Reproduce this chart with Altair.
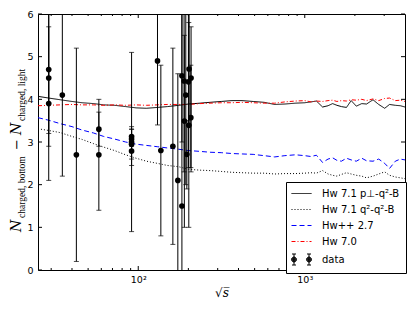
import altair as alt
import pandas as pd

# ---------------- data ----------------
SERIES = ["Hw 7.1 p⊥-q²-B", "Hw 7.1 q²-q²-B", "Hw++ 2.7", "Hw 7.0", "data"]
COLORS = ["#000000", "#000000", "#0000ff", "#ff0000", "#000000"]
DASHES = [[1, 0], [1, 2], [5, 3], [4, 2, 1, 2], [1, 0]]

MC_SQRT_S = [25, 29, 34, 40, 46, 54, 62, 72, 84, 97, 112, 130, 150, 175, 200,
             235, 270, 315, 365, 420, 490, 570, 660, 760, 880, 1000, 1090, 1175,
             1280, 1380, 1470, 1560, 1660, 1780, 1900, 2040, 2200, 2350, 2570,
             2780, 3020, 3230, 3500, 3750, 4000]
HW71_PT = [4.07, 4.03, 3.99, 3.95, 3.92, 3.90, 3.87, 3.86, 3.83, 3.80, 3.79, 3.81,
           3.83, 3.86, 3.89, 3.91, 3.93, 3.95, 3.97, 3.97, 3.95, 3.93, 3.88, 3.89,
           3.91, 3.92, 3.94, 3.96, 3.82, 3.85, 3.90, 3.86, 3.83, 3.81, 3.97, 3.84,
           3.90, 3.89, 3.99, 3.88, 3.79, 3.88, 3.86, 3.85, 3.82]
HW71_Q2 = [3.31, 3.27, 3.22, 3.13, 3.06, 2.96, 2.88, 2.80, 2.70, 2.62, 2.55, 2.50,
           2.45, 2.42, 2.36, 2.34, 2.33, 2.31, 2.29, 2.28, 2.27, 2.27, 2.25, 2.26,
           2.26, 2.27, 2.28, 2.27, 2.33, 2.25, 2.22, 2.20, 2.24, 2.28, 2.25, 2.22,
           2.20, 2.16, 2.20, 2.25, 2.30, 2.22, 2.18, 2.16, 2.14]
HWPP27 = [3.57, 3.51, 3.43, 3.36, 3.28, 3.21, 3.13, 3.07, 3.00, 2.95, 2.92, 2.89,
          2.86, 2.83, 2.80, 2.78, 2.76, 2.75, 2.73, 2.72, 2.71, 2.68, 2.65, 2.68,
          2.70, 2.68, 2.66, 2.69, 2.52, 2.60, 2.63, 2.57, 2.55, 2.62, 2.58, 2.55,
          2.62, 2.56, 2.55, 2.60, 2.50, 2.38, 2.55, 2.60, 2.58]
HW70 = [3.85, 3.86, 3.87, 3.88, 3.87, 3.87, 3.86, 3.87, 3.86, 3.87, 3.86, 3.87,
        3.88, 3.88, 3.88, 3.90, 3.91, 3.92, 3.92, 3.93, 3.92, 3.91, 3.91, 3.94,
        3.96, 3.97, 3.94, 3.96, 3.95, 3.97, 3.98, 3.95, 3.97, 3.96, 3.99, 3.98,
        4.00, 3.97, 4.01, 3.97, 4.02, 4.03, 3.97, 3.98, 3.95]

DATA_SQRT_S = [29.0, 29.0, 29.0, 35.0, 42.5, 58.0, 58.0, 91.2, 91.2, 91.2, 91.2,
               91.2, 130.5, 136.7, 161.4, 172.9, 182.9, 182.9, 188.5, 189.2, 193.0,
               195.8, 200.1, 201.2, 202.0, 206.9, 207.6]
DATA_VAL = [3.9, 4.5, 4.7, 4.1, 2.7, 3.3, 2.7, 3.13, 3.07, 3.0, 2.95, 2.79, 4.9,
            2.8, 2.9, 2.1, 1.5, 4.55, 4.43, 3.49, 4.1, 2.71, 4.41, 3.39, 4.71,
            3.57, 4.5]
DATA_LO = [2.1, 2.9, 3.2, 2.2, 0.2, 2.9, 1.4, 2.9, 2.75, 0.9, 2.6, 2.45, 3.4,
           0.8, 0.6, -0.4, -1.5, 3.0, 2.3, 1.0, 2.0, 1.9, 2.4, 1.0, 3.4, 2.4, 2.3]
DATA_HI = [5.7, 6.1, 6.2, 6.0, 5.2, 3.7, 4.0, 3.36, 3.3, 5.1, 3.3, 3.15, 6.4,
           4.8, 5.2, 4.6, 6.5, 6.1, 6.5, 5.5, 6.2, 3.5, 6.4, 5.8, 6.0, 4.8, 5.7]

Y_TICKS = [0, 1, 2, 3, 4, 5, 6]
X_MAJOR = [100, 1000]
X_MINOR = [30, 40, 50, 60, 70, 80, 90, 200, 300, 400, 500, 600, 700, 800, 900,
           2000, 3000]

# ---------------- tables ----------------
mc_rows = []
for name, vals in zip(SERIES[:4], [HW71_PT, HW71_Q2, HWPP27, HW70]):
    for s, v in zip(MC_SQRT_S, vals):
        mc_rows.append({"sqrt_s": s, "value": v, "series": name})
mc_df = pd.DataFrame(mc_rows)

d_df = pd.DataFrame({"sqrt_s": DATA_SQRT_S, "value": DATA_VAL,
                     "lo": DATA_LO, "hi": DATA_HI})
key_df = pd.DataFrame({"series": SERIES})

yt_df = pd.DataFrame({"v": Y_TICKS})
xM_df = pd.DataFrame({"v": X_MAJOR})
xm_df = pd.DataFrame({"v": X_MINOR})

W, H = 367, 256
LX, LY = 248, 168

xscale = alt.Scale(type="log", domain=[25, 4000], nice=False)
yscale = alt.Scale(domain=[0, 6], nice=False, zero=False)

xaxis = alt.Axis(values=X_MAJOR,
                 labelExpr="datum.value == 100 ? '10²' : '10³'",
                 title="√s\u0305", titleFont="DejaVu Serif",
                 titleFontStyle="italic", titleFontWeight="normal",
                 titleFontSize=12, labelPadding=4, titlePadding=4)
yaxis = alt.Axis(values=Y_TICKS, format="d", title="", labelPadding=5)


# ---------- legend key symbols (custom paths, 1 unit = 5 px) ----------
def dash_path(pattern_px):
    """Horizontal segment from -2 to 2 units drawn with a dash pattern (px)."""
    pat = [p / 5.0 for p in pattern_px]
    x, i, parts = -2.0, 0, []
    while x < 2.0 - 1e-9:
        seg = pat[i % len(pat)]
        end = min(x + seg, 2.0)
        if i % 2 == 0:
            parts.append(f"M{x:.2f},0L{end:.2f},0")
        x = end
        i += 1
    return "".join(parts)


def data_path():
    parts = []
    for cx in (-1.5, 1.5):
        parts.append(f"M{cx},-1.1L{cx},1.1M{cx-0.4},-1.1L{cx+0.4},-1.1"
                     f"M{cx-0.4},1.1L{cx+0.4},1.1")
        for r in (0.5, 0.38, 0.26, 0.14, 0.04):
            parts.append(f"M{cx-r:.2f},0A{r},{r},0,1,0,{cx+r:.2f},0"
                         f"A{r},{r},0,1,0,{cx-r:.2f},0")
    return "".join(parts)


SHAPES = [dash_path([20, 0]), dash_path([1, 2]), dash_path([5, 3]),
          dash_path([4, 2, 1, 2]), data_path()]

# per-entry legend stroke colour, looked up from SERIES / COLORS
COLOR_EXPR = "".join(f"datum.value === '{s}' ? '{c}' : " for s, c in zip(SERIES, COLORS)) + "'#000000'"

legend = alt.Legend(title=None, orient="none", legendX=LX, legendY=LY,
                    symbolSize=100, symbolStrokeWidth=1,
                    symbolStrokeColor=alt.ExprRef(COLOR_EXPR),
                    labelFont="DejaVu Sans", labelFontSize=10, labelColor="black",
                    rowPadding=5, padding=6, labelOffset=15, symbolOffset=4,
                    strokeColor="black", fillColor="white", cornerRadius=0)

cscale = alt.Scale(domain=SERIES, range=COLORS)

X = lambda f: alt.X(f, scale=xscale, axis=xaxis)
Y = lambda f: alt.Y(f, scale=yscale, axis=yaxis)

# legend-only helper (clipped away) carrying the legend keys
key = alt.Chart(key_df).mark_point(filled=False, clip=True, size=100,
                                   strokeWidth=1, opacity=1).encode(
    x=alt.value(-60), y=alt.value(-60),
    color=alt.Color("series:N", scale=cscale, legend=legend),
    shape=alt.Shape("series:N", scale=alt.Scale(domain=SERIES, range=SHAPES),
                    legend=legend),
)

lines = alt.Chart(mc_df).mark_line(strokeWidth=1, clip=True).encode(
    x=X("sqrt_s:Q"), y=Y("value:Q"),
    color=alt.Color("series:N", scale=cscale, legend=legend),
    strokeDash=alt.StrokeDash("series:N", scale=alt.Scale(domain=SERIES, range=DASHES),
                              legend=None),
)

bars = alt.Chart(d_df).mark_rule(clip=True, color="black", strokeWidth=1).encode(
    x=X("sqrt_s:Q"), y=Y("lo:Q"), y2="hi:Q",
)
cap_lo = alt.Chart(d_df).mark_tick(clip=True, orient="horizontal", size=5,
                                    thickness=1, color="black").encode(
    x=X("sqrt_s:Q"), y=Y("lo:Q"),
)
cap_hi = alt.Chart(d_df).mark_tick(clip=True, orient="horizontal", size=5,
                                    thickness=1, color="black").encode(
    x=X("sqrt_s:Q"), y=Y("hi:Q"),
)
points = alt.Chart(d_df).mark_circle(size=32, opacity=1, color="black").encode(
    x=X("sqrt_s:Q"), y=Y("value:Q"),
)

# inward ticks on all four sides
def ytick(x0, x1):
    return alt.Chart(yt_df).mark_rule(color="black", strokeWidth=1).encode(
        y=Y("v:Q"), x=alt.value(x0), x2=alt.value(x1))

def xtick(df, y0, y1):
    return alt.Chart(df).mark_rule(color="black", strokeWidth=1).encode(
        x=X("v:Q"), y=alt.value(y0), y2=alt.value(y1))

ticks = [ytick(0, 4), ytick(W - 4, W),
         xtick(xM_df, H, H - 4), xtick(xM_df, 0, 4),
         xtick(xm_df, H, H - 2), xtick(xm_df, 0, 2)]

# y-axis title built from pieces (N with subscripts)
def piece(text, x, y, font, size, style="normal"):
    return alt.Chart(alt.Data(values=[{}])).mark_text(
        text=text, angle=270, align="left", baseline="alphabetic",
        font=font, fontSize=size, fontStyle=style, color="black"
    ).encode(x=alt.value(x), y=alt.value(y))

ytitle = [
    piece("N", -17, 218, "DejaVu Serif", 14, "italic"),
    piece("charged, bottom", -13, 204, "Liberation Serif", 9.5),
    piece("−", -17, 136, "DejaVu Serif", 13),
    piece("N", -17, 121, "DejaVu Serif", 14, "italic"),
    piece("charged, light", -13, 107, "Liberation Serif", 9.5),
]

chart = alt.layer(key, lines, bars, cap_lo, cap_hi, points, *ticks, *ytitle).properties(
    width=W, height=H,
    autosize=alt.AutoSizeParams(type="none"),
    padding={"left": 30, "top": 6, "right": 2, "bottom": 30},
).configure_view(stroke="black", strokeWidth=1).configure_axis(
    grid=False, ticks=False, domain=False, labelFont="DejaVu Sans",
    labelFontSize=9.5, labelColor="black", titleColor="black"
).configure_legend(symbolBaseStrokeColor=alt.ExprRef(COLOR_EXPR))

chart.save("out.html", embed_options={"renderer": "svg", "actions": False})
